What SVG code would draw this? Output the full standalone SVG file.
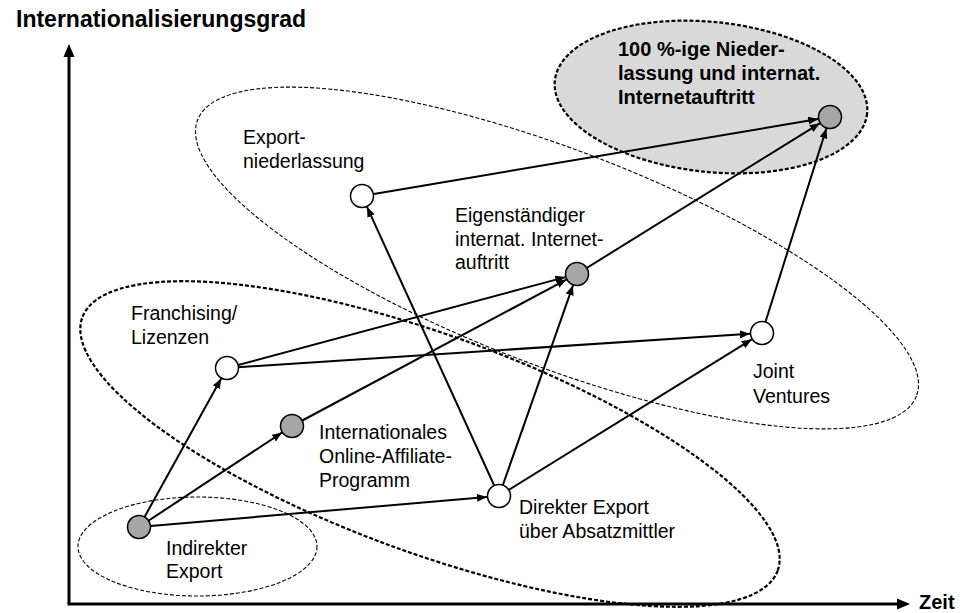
<svg xmlns="http://www.w3.org/2000/svg" width="971" height="613" viewBox="0 0 971 613">
<style>
text{font-family:"Liberation Sans",Arial,Helvetica,sans-serif;fill:#000}
.lbl{font-size:19.5px}
.bold{font-weight:bold}
.thin{fill:none;stroke:#000;stroke-width:1.1;stroke-dasharray:4 2}
.thick{stroke:#000;stroke-width:2.2;stroke-dasharray:4 2}
.edge{stroke:#000;stroke-width:2;fill:none;marker-end:url(#ah)}
.axis{stroke:#000;stroke-width:3;fill:none}
.nw{fill:#fff;stroke:#000;stroke-width:1.5}
.ng{fill:#a6a6a6;stroke:#000;stroke-width:1.5}
</style>
<defs>
<marker id="ah" markerUnits="userSpaceOnUse" markerWidth="11" markerHeight="9" refX="10" refY="4" orient="auto">
<path d="M0,0 L10,4 L0,8 z" fill="#000"/>
</marker>
</defs>
<rect width="971" height="613" fill="#fff"/>

<g id="regions">
<ellipse id="region-100" cx="711" cy="97" rx="157" ry="75" transform="rotate(6 711 97)" class="thick" fill="#d9d9d9"/>
<ellipse id="region-export" cx="557" cy="258" rx="385" ry="108" transform="rotate(21 557 258)" class="thin"/>
<ellipse id="region-franchising" cx="430" cy="444" rx="370" ry="109" transform="rotate(20 430 444)" class="thick" fill="none"/>
<ellipse id="region-indirekt" cx="197.5" cy="546.5" rx="119.5" ry="49.5" class="thin"/>
</g>

<g id="axes">
<path class="axis" d="M69,604 V56"/>
<path d="M63.5,57 L69,44 L74.5,57 z" fill="#000"/>
<path class="axis" d="M67.5,604 H898"/>
<path d="M897,598.5 L910,604 L897,609.5 z" fill="#000"/>
<text x="16" y="27" class="bold" style="font-size:23px">Internationalisierungsgrad</text>
<text x="919" y="609" class="bold" style="font-size:20px">Zeit</text>
</g>

<g id="connectors">
<line class="edge" x1="139" y1="527" x2="221.2" y2="378.5"/>
<line class="edge" x1="139" y1="527" x2="282" y2="432.6"/>
<line class="edge" x1="139" y1="527" x2="487" y2="497"/>
<line class="edge" x1="227" y1="368" x2="565.4" y2="277.1"/>
<line class="edge" x1="227" y1="368" x2="750" y2="333.8"/>
<line class="edge" x1="292" y1="426" x2="566.4" y2="279.6"/>
<line class="edge" x1="499" y1="496" x2="367" y2="206.9"/>
<line class="edge" x1="499" y1="496" x2="573" y2="285.3"/>
<line class="edge" x1="499" y1="496" x2="751.8" y2="339.3"/>
<line class="edge" x1="362" y1="196" x2="818.2" y2="119"/>
<line class="edge" x1="577" y1="274" x2="819.8" y2="123.3"/>
<line class="edge" x1="762" y1="333" x2="826.4" y2="128.4"/>
</g>

<g id="node-indirekt">
<circle class="ng" cx="139" cy="527" r="11.5"/>
<text class="lbl" x="166" y="555">Indirekter</text>
<text class="lbl" x="166" y="578">Export</text>
</g>
<g id="node-franchising">
<circle class="nw" cx="227" cy="368" r="11.5"/>
<text class="lbl" x="131" y="320">Franchising/</text>
<text class="lbl" x="131" y="344">Lizenzen</text>
</g>
<g id="node-affiliate">
<circle class="ng" cx="292" cy="426" r="11.5"/>
<text class="lbl" x="319" y="439">Internationales</text>
<text class="lbl" x="319" y="463">Online-Affiliate-</text>
<text class="lbl" x="319" y="487">Programm</text>
</g>
<g id="node-direkt">
<circle class="nw" cx="499" cy="496" r="11.5"/>
<text class="lbl" x="519" y="514">Direkter Export</text>
<text class="lbl" x="519" y="538">über Absatzmittler</text>
</g>
<g id="node-exportniederlassung">
<circle class="nw" cx="362" cy="196" r="11.5"/>
<text class="lbl" x="243" y="144">Export-</text>
<text class="lbl" x="243" y="168">niederlassung</text>
</g>
<g id="node-eigenstaendig">
<circle class="ng" cx="577" cy="274" r="11.5"/>
<text class="lbl" x="455" y="222">Eigenständiger</text>
<text class="lbl" x="455" y="246">internat. Internet-</text>
<text class="lbl" x="455" y="269">auftritt</text>
</g>
<g id="node-jointventures">
<circle class="nw" cx="762" cy="333" r="11.5"/>
<text class="lbl" x="753" y="378">Joint</text>
<text class="lbl" x="753" y="403">Ventures</text>
</g>
<g id="node-100">
<circle class="ng" cx="830" cy="117" r="11.5"/>
<text class="bold" style="font-size:20px" x="618" y="56">100 %-ige Nieder-</text>
<text class="bold" style="font-size:20px" x="618" y="80">lassung und internat.</text>
<text class="bold" style="font-size:20px" x="618" y="104">Internetauftritt</text>
</g>
</svg>
